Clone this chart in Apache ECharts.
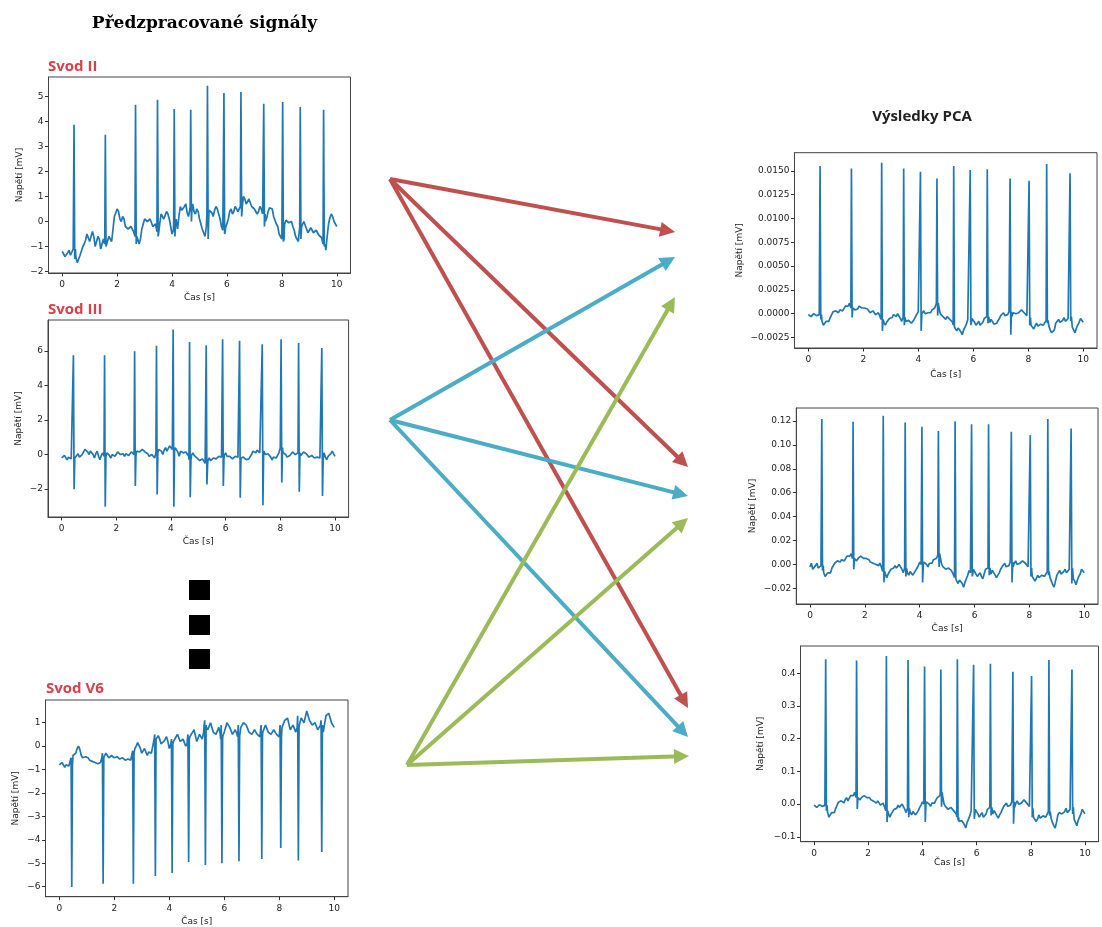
<!DOCTYPE html>
<html><head><meta charset="utf-8">
<script src="https://cdn.jsdelivr.net/npm/echarts@6/dist/echarts.min.js"></script>
<style>html,body{margin:0;padding:0;background:#fff}#c{width:1102px;height:927px}</style>
</head><body><div id="c"></div>
<script>
// ---------- DATA ----------
const sampleStep = 0.1; // s between baseline samples (t = 0.0 ... 10.0); "Mid" arrays hold the samples at t = 0.05, 0.15, ...
const beatTimes = [0.43,1.57,2.67,3.47,4.08,4.68,5.29,5.89,6.51,7.34,8.03,8.67,9.52];

// Svod II
const leadIIBase = [-1.2,-1.4,-1.25,-1.35,-1.1,-1.45,-1.6,-1.3,-0.9,-0.5,-0.8,-0.4,-1.0,-0.6,-1.1,-0.7,-0.9,-0.6,-0.8,0.2,
 0.5,0.1,0.2,-0.2,-0.3,-0.2,-0.4,-0.6,-0.9,-0.3,0.1,0.0,0.1,-0.2,-0.1,-0.4,0.3,0.1,0.4,0.1,
 -0.5,0.0,-0.3,0.6,0.4,0.7,0.2,0.6,0.4,0.5,0.1,-0.3,-0.6,0.3,0.5,0.2,0.6,0.3,-0.2,-0.4,
 -0.2,0.4,0.3,0.6,0.4,0.6,1.0,0.7,0.9,0.6,0.5,0.3,0.6,0.3,0.0,0.4,0.6,0.2,-0.1,-0.5,
 -0.7,-0.1,0.1,-0.1,-0.2,-0.6,-0.8,-0.2,0.0,-0.3,-0.4,-0.3,-0.5,-0.4,-0.6,-0.9,-1.15,-0.1,0.3,0.0,-0.2];
const leadIIMid = [-1.15,-1.45,-1.15,-1.3,-1.2,-1.65,-1.35,-1.0,-0.75,-0.45,
 -0.75,-0.6,-0.95,-0.7,-1.05,-0.65,-0.95,-0.55,-0.3,0.25,
 0.4,0.0,0.1,-0.15,-0.35,-0.2,-0.45,-0.7,-0.7,-0.1,
 0.15,-0.05,0.05,-0.25,-0.15,-0.1,0.35,0.15,0.3,-0.2,
 -0.35,0.1,0.2,0.45,0.6,0.35,0.5,0.7,0.3,0.4,
 -0.1,-0.35,-0.2,0.45,0.35,0.45,0.5,0.1,-0.35,-0.25,
 0.1,0.5,0.4,0.55,0.45,0.85,0.9,0.75,0.85,0.65,
 0.45,0.4,0.5,0.2,0.15,0.55,0.5,0.05,-0.2,-0.5,
 -0.4,0.05,-0.05,0.0,-0.35,-0.6,-0.5,-0.15,0.05,-0.45,
 -0.25,-0.45,-0.35,-0.55,-0.65,-0.95,-0.6,0.15,0.2,-0.05];
const leadIIPeaks = [3.87,3.47,4.67,4.87,4.50,4.47,5.43,5.14,5.18,4.71,4.78,4.58,4.47];
const leadIITroughs = [-1.5,-1.0,-0.9,-0.6,-0.6,0.0,-0.7,-0.5,0.2,-0.2,-0.8,-0.7,-1.0];
const leadIITicks = [-2,-1,0,1,2,3,4,5];

// Svod III
const leadIIIBase = [-0.2,-0.05,-0.3,-0.1,-0.2,-0.25,0.05,-0.2,0.1,0.4,0.0,0.3,-0.2,0.2,-0.3,0.1,-0.1,0.2,-0.2,0.1,
 0.0,0.2,0.1,-0.1,0.1,0.0,0.2,0.0,0.3,0.2,0.3,0.1,-0.1,0.0,-0.2,0.1,0.4,0.0,0.4,0.3,
 0.6,0.2,0.5,-0.1,0.3,0.0,0.2,-0.3,0.1,-0.1,-0.2,-0.4,-0.3,-0.6,-0.2,-0.4,-0.1,-0.3,0.0,-0.2,
 0.1,-0.2,-0.1,-0.3,0.0,-0.2,-0.3,-0.1,-0.4,-0.2,0.2,0.1,0.3,0.0,0.2,-0.1,0.1,-0.3,-0.1,-0.2,
 0.4,0.1,0.0,-0.2,0.0,0.2,-0.1,0.1,0.0,0.2,0.0,-0.2,0.0,-0.3,-0.1,-0.2,0.1,-0.3,0.0,0.2,-0.1];
const leadIIIMid = [-0.3,-0.1,-0.15,-0.25,-0.1,-0.15,-0.15,0.0,0.3,0.15,
 0.2,0.0,0.05,-0.1,-0.05,0.05,0.1,-0.05,0.0,-0.1,
 0.15,0.0,0.05,0.05,-0.05,0.15,0.05,0.2,0.15,0.3,
 0.15,0.05,-0.15,-0.1,-0.05,0.3,0.2,0.25,0.2,0.5,
 0.3,0.4,0.15,0.2,0.1,0.15,-0.1,-0.05,-0.05,-0.2,
 -0.35,-0.25,-0.5,-0.35,-0.35,-0.2,-0.25,-0.1,-0.15,-0.05,
 -0.1,-0.1,-0.25,-0.1,-0.15,-0.3,-0.15,-0.3,-0.25,0.0,
 0.2,0.25,0.1,0.15,0.0,0.05,-0.15,-0.15,-0.2,0.1,
 0.25,0.05,-0.15,-0.05,0.15,0.0,0.05,-0.05,0.15,0.05,
 -0.15,-0.05,-0.2,-0.15,-0.2,-0.05,-0.15,-0.1,0.05,0.1];
const leadIIIPeaks = [5.76,5.76,5.99,6.30,7.25,6.53,6.34,6.69,6.59,6.40,6.69,6.47,6.18];
const leadIIITroughs = [-2.01,-3.03,-1.82,-2.32,-3.03,-2.47,-1.74,-1.82,-2.51,-2.94,-1.62,-2.16,-2.40];
const leadIIITicks = [-2,0,2,4,6];

// Svod V6
const leadV6Base = [-0.8,-0.7,-0.9,-0.75,-0.85,-0.4,-0.3,0.0,-0.4,-0.5,-0.4,-0.6,-0.65,-0.7,-0.75,-0.7,-0.5,-0.3,-0.5,-0.4,
 -0.5,-0.45,-0.55,-0.5,-0.6,-0.55,-0.6,-0.3,0.0,0.2,-0.3,-0.1,-0.4,-0.2,-0.3,0.3,0.45,0.1,0.2,0.4,
 -0.1,0.1,0.3,0.5,0.2,0.3,0.0,0.3,0.5,0.7,0.2,0.5,0.3,0.9,0.7,1.0,0.6,0.5,0.8,0.3,
 0.6,1.0,0.8,0.5,0.7,0.4,0.8,1.0,0.9,0.6,0.5,0.7,0.5,0.4,0.6,0.9,0.6,0.5,0.7,0.5,
 0.4,0.8,1.1,1.2,0.7,0.9,0.6,0.8,1.2,1.0,1.5,1.1,0.9,1.0,0.7,0.9,0.6,1.3,1.4,1.0,0.8];
const leadV6Mid = [-0.85,-0.75,-0.8,-0.85,-0.6,-0.45,-0.1,-0.15,-0.5,-0.45,
 -0.5,-0.6,-0.7,-0.7,-0.75,-0.6,-0.4,-0.4,-0.45,-0.45,
 -0.45,-0.5,-0.5,-0.55,-0.55,-0.6,-0.45,-0.1,0.15,-0.1,
 -0.2,-0.25,-0.25,-0.3,0.0,0.35,0.3,0.15,0.3,0.2,
 -0.05,0.2,0.4,0.35,0.25,0.15,0.1,0.4,0.6,0.45,
 0.35,0.4,0.6,0.8,0.85,0.8,0.55,0.65,0.55,0.45,
 0.8,0.9,0.65,0.6,0.55,0.6,0.9,0.95,0.75,0.55,
 0.6,0.6,0.45,0.5,0.75,0.75,0.55,0.6,0.6,0.45,
 0.6,0.95,1.15,0.95,0.8,0.75,0.7,1.0,1.1,1.25,
 1.3,1.0,0.95,0.85,0.8,0.75,0.95,1.35,1.2,0.9];
const leadV6Peaks = [-0.5,-0.3,-0.2,0.5,0.3,0.5,1.1,0.9,0.9,0.9,0.9,1.3,1.1];
const leadV6Troughs = [-6.02,-5.88,-5.88,-5.55,-5.42,-4.95,-5.08,-5.00,-4.92,-4.82,-4.35,-4.88,-4.52];
const leadV6Ticks = [-6,-5,-4,-3,-2,-1,0,1];

// PCA 1
const pca1Base = [-0.0001,-0.0003,0.0000,-0.0002,-0.0001,-0.0008,-0.0011,-0.0009,-0.0004,0.0002,
 0.0003,0.0001,0.0006,0.0004,0.0009,0.0011,0.0006,0.0004,0.0005,0.0009,
 0.0007,0.0004,0.0003,0.0001,0.0002,-0.0001,0.0000,-0.0006,-0.0012,-0.0008,
 -0.0005,-0.0001,-0.0003,-0.0001,-0.0008,-0.0004,-0.0010,-0.0006,-0.0011,-0.0003,
 0.0002,0.0000,0.0003,-0.0002,0.0002,0.0004,0.0006,0.0011,0.0000,-0.0003,
 -0.0006,-0.0002,-0.0008,-0.0012,-0.0018,-0.0015,-0.0022,-0.0014,-0.0006,-0.0008,
 -0.0005,-0.0012,-0.0008,-0.0014,-0.0005,-0.0003,-0.0009,-0.0006,-0.0013,-0.0008,
 -0.0002,0.0001,-0.0004,0.0002,-0.0003,0.0003,-0.0001,0.0002,0.0004,0.0000,
 -0.0004,-0.0012,-0.0016,-0.0010,-0.0014,-0.0009,-0.0013,-0.0007,-0.0017,-0.0022,
 -0.0010,-0.0006,-0.0011,-0.0004,-0.0009,-0.0003,-0.0014,-0.0020,-0.0012,-0.0005,-0.0009];
const pca1Mid = [0.0001,-0.0003,0.0001,-0.0003,-0.0006,-0.0012,-0.0008,-0.0008,-0.0003,0.0001,
 0.0004,0.0004,0.0003,0.0008,0.0008,0.0009,0.0007,0.0006,0.0008,0.0006,
 0.0006,0.0005,0.0001,0.0003,-0.0001,0.0001,-0.0004,-0.0009,-0.0009,-0.0005,
 -0.0004,-0.0003,0.0000,-0.0005,-0.0005,-0.0008,-0.0007,-0.0010,-0.0006,-0.0001,
 0.0000,0.0002,0.0000,0.0001,0.0001,0.0006,0.0008,0.0007,-0.0002,-0.0005,
 -0.0003,-0.0006,-0.0009,-0.0016,-0.0015,-0.0019,-0.0017,-0.0011,-0.0008,-0.0005,
 -0.0009,-0.0010,-0.0012,-0.0009,-0.0005,-0.0007,-0.0006,-0.0011,-0.0010,-0.0005,
 -0.0001,-0.0002,-0.0001,-0.0001,0.0001,0.0000,0.0001,0.0004,0.0001,-0.0002,
 -0.0009,-0.0013,-0.0014,-0.0013,-0.0011,-0.0012,-0.0009,-0.0013,-0.0020,-0.0017,
 -0.0008,-0.0009,-0.0007,-0.0008,-0.0005,-0.0010,-0.0017,-0.0015,-0.0009,-0.0006];
const pca1Peaks = [0.01550,0.01525,0.01585,0.01525,0.01490,0.01420,0.01550,0.01508,0.01515,0.01420,0.01395,0.01571,0.01473];
const pca1Troughs = [-0.0006,-0.0004,-0.0018,-0.0012,-0.0018,-0.0002,-0.0014,-0.0012,-0.0010,-0.0022,-0.0012,-0.0010,-0.0008];
const pca1Ticks = [-0.0025,0,0.0025,0.005,0.0075,0.01,0.0125,0.015];

// PCA 2
const pca2Base = [-0.002,-0.004,-0.001,-0.003,-0.001,-0.007,-0.010,-0.008,-0.003,0.001,
 0.003,0.002,0.005,0.004,0.007,0.009,0.005,0.003,0.004,0.008,
 0.006,0.004,0.002,0.001,0.000,-0.001,-0.002,-0.006,-0.011,-0.007,
 -0.004,-0.001,-0.003,-0.002,-0.007,-0.003,-0.009,-0.005,-0.010,-0.003,
 0.002,-0.001,0.002,-0.002,0.001,0.004,0.005,0.009,0.000,-0.003,
 -0.005,-0.002,-0.007,-0.011,-0.016,-0.013,-0.019,-0.012,-0.005,-0.007,
 -0.004,-0.010,-0.007,-0.012,-0.004,-0.003,-0.008,-0.005,-0.011,-0.007,
 -0.002,0.001,-0.003,0.002,-0.002,0.003,-0.001,0.002,0.004,0.000,
 -0.003,-0.010,-0.014,-0.009,-0.012,-0.008,-0.011,-0.006,-0.014,-0.019,
 -0.009,-0.005,-0.009,-0.004,-0.008,-0.003,-0.012,-0.017,-0.010,-0.004,-0.007];
const pca2Mid = [0.001,-0.003,0.001,-0.003,-0.005,-0.010,-0.007,-0.007,-0.002,0.001,
 0.003,0.004,0.003,0.007,0.007,0.008,0.006,0.005,0.007,0.005,
 0.005,0.004,0.001,0.002,-0.001,0.001,-0.003,-0.008,-0.008,-0.004,
 -0.003,-0.003,0.000,-0.004,-0.004,-0.007,-0.006,-0.009,-0.005,-0.001,
 0.000,0.002,0.000,0.001,0.001,0.005,0.007,0.006,-0.002,-0.004,
 -0.003,-0.005,-0.008,-0.014,-0.013,-0.016,-0.015,-0.009,-0.007,-0.004,
 -0.008,-0.009,-0.010,-0.008,-0.004,-0.006,-0.005,-0.009,-0.009,-0.004,
 -0.001,-0.002,-0.001,-0.001,0.001,0.000,0.001,0.003,0.001,-0.002,
 -0.008,-0.011,-0.012,-0.011,-0.009,-0.010,-0.008,-0.011,-0.017,-0.014,
 -0.007,-0.008,-0.006,-0.007,-0.004,-0.009,-0.014,-0.013,-0.008,-0.005];
const pca2Peaks = [0.1216,0.1194,0.1244,0.1188,0.1152,0.1116,0.1199,0.1172,0.1172,0.1110,0.1082,0.1216,0.1138];
const pca2Troughs = [-0.005,-0.004,-0.015,-0.010,-0.015,-0.002,-0.012,-0.010,-0.009,-0.015,-0.010,-0.009,-0.016];
const pca2Ticks = [-0.02,0,0.02,0.04,0.06,0.08,0.10,0.12];

// PCA 3
const pca3Base = [-0.003,-0.010,-0.002,-0.007,-0.004,-0.026,-0.036,-0.030,-0.013,0.006,
 0.010,0.004,0.020,0.014,0.030,0.036,0.020,0.013,0.017,0.030,
 0.023,0.013,0.009,0.003,0.005,-0.003,0.000,-0.020,-0.040,-0.027,
 -0.016,-0.003,-0.010,-0.004,-0.026,-0.013,-0.033,-0.020,-0.036,-0.010,
 0.007,0.000,0.010,-0.007,0.007,0.013,0.020,0.036,0.000,-0.010,
 -0.020,-0.007,-0.026,-0.040,-0.059,-0.050,-0.073,-0.046,-0.020,-0.026,
 -0.016,-0.040,-0.026,-0.046,-0.016,-0.010,-0.030,-0.020,-0.043,-0.026,
 -0.007,0.003,-0.013,0.007,-0.010,0.010,-0.003,0.007,0.013,0.000,
 -0.013,-0.040,-0.053,-0.033,-0.046,-0.030,-0.043,-0.023,-0.056,-0.073,
 -0.033,-0.020,-0.036,-0.013,-0.030,-0.010,-0.046,-0.066,-0.040,-0.016,-0.030];
const pca3Mid = [0.003,-0.010,0.003,-0.010,-0.020,-0.040,-0.026,-0.026,-0.010,0.003,
 0.013,0.013,0.010,0.026,0.026,0.030,0.023,0.020,0.026,0.020,
 0.020,0.016,0.003,0.010,-0.003,0.003,-0.013,-0.030,-0.030,-0.016,
 -0.013,-0.010,0.000,-0.016,-0.016,-0.026,-0.023,-0.033,-0.020,-0.003,
 0.000,0.007,0.000,0.003,0.003,0.020,0.026,0.023,-0.007,-0.016,
 -0.010,-0.020,-0.030,-0.053,-0.050,-0.063,-0.056,-0.036,-0.026,-0.016,
 -0.030,-0.033,-0.040,-0.030,-0.016,-0.023,-0.020,-0.036,-0.033,-0.016,
 -0.003,-0.007,-0.003,-0.003,0.003,0.000,0.003,0.013,0.003,-0.007,
 -0.030,-0.043,-0.046,-0.043,-0.036,-0.040,-0.030,-0.043,-0.066,-0.056,
 -0.026,-0.030,-0.023,-0.026,-0.016,-0.033,-0.056,-0.050,-0.030,-0.020];
const pca3Peaks = [0.443,0.439,0.453,0.441,0.421,0.412,0.443,0.426,0.429,0.405,0.392,0.441,0.412];
const pca3Troughs = [-0.020,-0.015,-0.055,-0.040,-0.055,-0.008,-0.050,-0.045,-0.035,-0.060,-0.040,-0.035,-0.030];
const pca3Ticks = [-0.1,0,0.1,0.2,0.3,0.4];

const xTicks = [0,2,4,6,8,10];

// Texts
const leadNames = ['Svod II','Svod III','Svod V6'];
const leftTitle = 'Předzpracované signály';
const rightTitle = 'Výsledky PCA';
const xName = 'Čas [s]';
const yName = 'Napětí [mV]';

// Arrows: [from, to] in page pixels
const arrowsRed   = [[[390,179],[675,232]],[[390,179],[688,467]],[[390,179],[688,708]]];
const arrowsBlue  = [[[390,420],[675,257]],[[390,420],[688,496]],[[390,420],[688,737]]];
const arrowsGreen = [[[407,765],[675,297]],[[407,765],[688,518]],[[407,765],[689,756]]];

// ---------- LAYOUT / STYLE ----------
const panels = [
  {base:leadIIBase, mid:leadIIMid, peaks:leadIIPeaks, troughs:leadIITroughs, ticks:leadIITicks, dec:0,
   grid:{left:48.5,top:77,width:302,height:196}, y:[-2.06,5.78], nameGap:24, xGap:20},
  {base:leadIIIBase, mid:leadIIIMid, peaks:leadIIIPeaks, troughs:leadIIITroughs, ticks:leadIIITicks, dec:0,
   grid:{left:48,top:320,width:300.6,height:197}, y:[-3.62,7.8], nameGap:25, xGap:20},
  {base:leadV6Base, mid:leadV6Mid, peaks:leadV6Peaks, troughs:leadV6Troughs, ticks:leadV6Ticks, dec:0,
   grid:{left:45.5,top:700,width:302.5,height:196.7}, y:[-6.43,1.97], nameGap:25, xGap:20},
  {base:pca1Base, mid:pca1Mid, peaks:pca1Peaks, troughs:pca1Troughs, ticks:pca1Ticks, dec:4,
   grid:{left:794.5,top:152.7,width:302.5,height:195.3}, y:[-0.0036,0.0169], nameGap:50, xGap:22},
  {base:pca2Base, mid:pca2Mid, peaks:pca2Peaks, troughs:pca2Troughs, ticks:pca2Ticks, dec:2,
   grid:{left:796.3,top:408,width:301.7,height:196}, y:[-0.0331,0.1309], nameGap:39, xGap:20},
  {base:pca3Base, mid:pca3Mid, peaks:pca3Peaks, troughs:pca3Troughs, ticks:pca3Ticks, dec:1,
   grid:{left:800.5,top:646,width:298,height:195.7}, y:[-0.115,0.4836], nameGap:35, xGap:16}
];
const traceColor = '#1f77b4';
const frameColor = '#444';
const tickFont = {fontFamily:'DejaVu Sans', fontSize:9, color:'#222'};

function buildTrace(base, mid, peaks, troughs){
  const spikes = [];
  beatTimes.forEach((t,k)=>{
    const foot = base[Math.round(t/sampleStep)];
    spikes.push([t-0.02,foot],[t,peaks[k]],[t+0.025,troughs[k]],[t+0.05,foot]);
  });
  const pts = [];
  const keep = t => !beatTimes.some(b => t > b-0.025 && t < b+0.055);
  base.forEach((v,i)=>{ const t = +(i*sampleStep).toFixed(3); if (keep(t)) pts.push([t,v]); });
  mid.forEach((v,i)=>{ const t = +((i+0.5)*sampleStep).toFixed(3); if (keep(t)) pts.push([t,v]); });
  return pts.concat(spikes).sort((a,b)=>a[0]-b[0]);
}
function fmt(dec){ return v => (v < -1e-12 ? '\u2212' : '') + Math.abs(v).toFixed(dec); }

const grids=[], xAxes=[], yAxes=[], series=[];
panels.forEach((p,i)=>{
  grids.push(Object.assign({show:true, borderColor:frameColor, borderWidth:1, backgroundColor:'#fff'}, p.grid));
  xAxes.push({type:'value', gridIndex:i, min:-0.5, max:10.5, position:'bottom',
    axisLine:{show:true, onZero:false, lineStyle:{color:frameColor, width:1}}, splitLine:{show:false},
    axisTick:{show:true, length:3.5, lineStyle:{color:'#333'}, customValues:xTicks},
    axisLabel:Object.assign({margin:7, customValues:xTicks, formatter:fmt(0)}, tickFont),
    name:xName, nameLocation:'middle', nameGap:p.xGap,
    nameTextStyle:{fontFamily:'DejaVu Sans', fontSize:9, color:'#222'}});
  yAxes.push({type:'value', gridIndex:i, min:p.y[0], max:p.y[1], position:'left',
    axisLine:{show:true, onZero:false, lineStyle:{color:frameColor, width:1}}, splitLine:{show:false},
    axisTick:{show:true, length:3.5, lineStyle:{color:'#333'}, customValues:p.ticks},
    axisLabel:Object.assign({margin:5, customValues:p.ticks, formatter:fmt(p.dec)}, tickFont),
    name:yName, nameLocation:'middle', nameGap:p.nameGap,
    nameTextStyle:{fontFamily:'DejaVu Sans', fontSize:9, color:'#222'}});
  series.push({type:'line', xAxisIndex:i, yAxisIndex:i, data:buildTrace(p.base,p.mid,p.peaks,p.troughs),
    showSymbol:false, symbol:'none', animation:false, silent:true,
    lineStyle:{color:traceColor, width:1.7}});
});

// Full-page hidden coordinate system for the arrows
grids.push({left:0, top:0, width:1102, height:927, show:false});
xAxes.push({type:'value', gridIndex:6, min:0, max:1102, show:false});
yAxes.push({type:'value', gridIndex:6, min:0, max:927, inverse:true, show:false});
const headLen = 15;
function shorten(seg){
  const [a,b] = seg; const dx=b[0]-a[0], dy=b[1]-a[1]; const L=Math.hypot(dx,dy);
  return [a,[b[0]-dx/L*headLen/2, b[1]-dy/L*headLen/2]];
}
[[arrowsRed,'#c0504d'],[arrowsBlue,'#4bacc6'],[arrowsGreen,'#9bbb59']].forEach(([arr,col])=>{
  series.push({type:'lines', coordinateSystem:'cartesian2d', xAxisIndex:6, yAxisIndex:6,
    symbol:['none','triangle'], symbolSize:headLen, silent:true, animation:false,
    lineStyle:{color:col, width:4, opacity:1, curveness:0},
    itemStyle:{color:col},
    data:arr.map(s=>({coords:shorten(s)}))});
});

const titleColor = '#d9404a';
const graphics = [
  {type:'text', x:204.5, y:24, style:{text:leftTitle, font:'bold 17px "DejaVu Serif"', fill:'#000', align:'center', verticalAlign:'middle', textAlign:'center', textVerticalAlign:'middle'}},
  {type:'text', x:922, y:117, style:{text:rightTitle, font:'bold 15px "Open Sans"', fill:'#222', align:'center', verticalAlign:'middle', textAlign:'center', textVerticalAlign:'middle'}},
  {type:'text', x:48, y:67, style:{text:leadNames[0], font:'bold 15px "Open Sans"', fill:titleColor, verticalAlign:'middle', textVerticalAlign:'middle'}},
  {type:'text', x:48, y:310, style:{text:leadNames[1], font:'bold 15px "Open Sans"', fill:titleColor, verticalAlign:'middle', textVerticalAlign:'middle'}},
  {type:'text', x:46, y:689, style:{text:leadNames[2], font:'bold 15px "Open Sans"', fill:titleColor, verticalAlign:'middle', textVerticalAlign:'middle'}},
  {type:'rect', shape:{x:189, y:580, width:21, height:20}, style:{fill:'#000'}},
  {type:'rect', shape:{x:189, y:615, width:21, height:20}, style:{fill:'#000'}},
  {type:'rect', shape:{x:189, y:649, width:21, height:20}, style:{fill:'#000'}}
];

const chart = echarts.init(document.getElementById('c'), null, {renderer:'canvas'});
chart.setOption({animation:false, backgroundColor:'#fff', grid:grids, xAxis:xAxes, yAxis:yAxes, series:series, graphic:graphics});
</script></body></html>
